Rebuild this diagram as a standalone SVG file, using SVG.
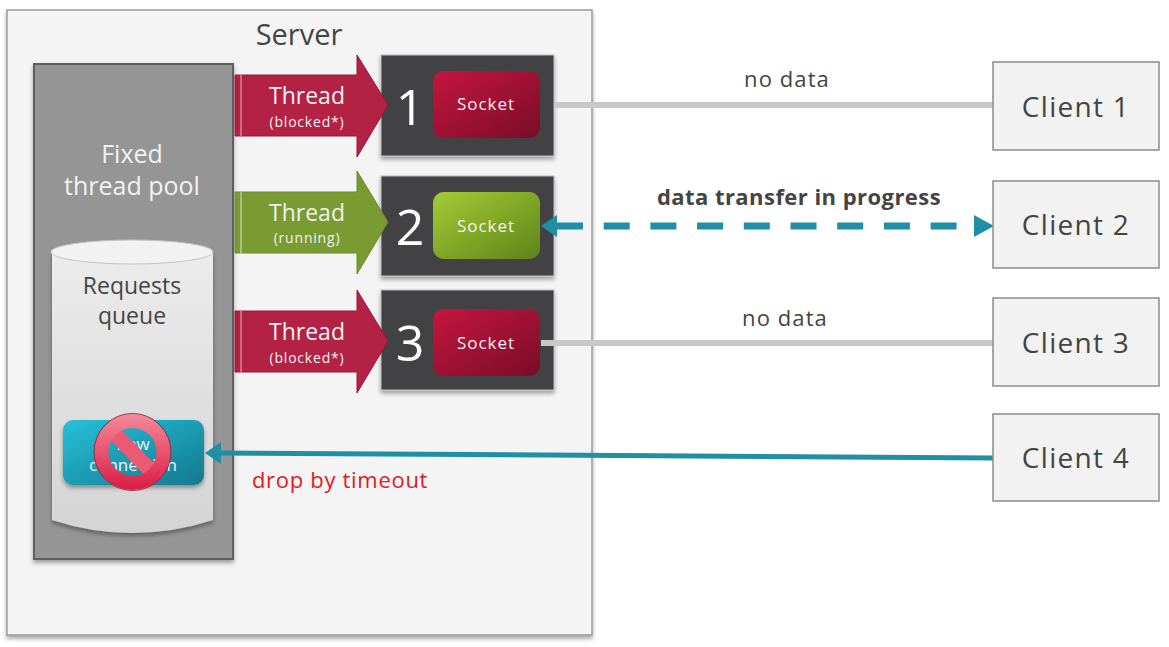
<svg xmlns="http://www.w3.org/2000/svg" width="1169" height="647" viewBox="0 0 1169 647">
<style>
text{font-family:"Open Sans","Noto Sans","Liberation Sans",sans-serif;text-anchor:middle}
.t{fill:#444;font-size:22px;letter-spacing:1.1px}
.w{fill:#f2f2f2}
.th{font-size:23px}
.sub{font-size:14px;letter-spacing:.8px}
.client{fill:#f2f2f2;stroke:#8c8c8c;stroke-width:1.5}
.sq{fill:#434345;stroke:#bdbdbd;stroke-width:1;filter:url(#sh)}
.cl{fill:#444;font-size:28px;letter-spacing:1.3px}
.num{fill:#fff;font-size:50px}
.sock{fill:#f2f2f2;font-size:17px;letter-spacing:1px}
.red{fill:#b32144;stroke:#98183a;stroke-width:1}
.grn{fill:#7a9a32;stroke:#6b8a2a;stroke-width:1}
</style>
<defs>
<filter id="sh" x="-10%" y="-10%" width="120%" height="125%"><feDropShadow dx="0" dy="3" stdDeviation="2" flood-color="#000" flood-opacity=".35"/></filter>
<linearGradient id="red" x1="0" y1="0" x2="1" y2="1"><stop offset="0" stop-color="#c5163f"/><stop offset="1" stop-color="#7a0c28"/></linearGradient>
<linearGradient id="grn" x1="0" y1="0" x2="1" y2="1"><stop offset="0" stop-color="#a4cb35"/><stop offset="1" stop-color="#5f8419"/></linearGradient>
<linearGradient id="teal" x1="0" y1="0" x2="1" y2="1"><stop offset="0" stop-color="#27c0d8"/><stop offset="1" stop-color="#12798f"/></linearGradient>
<linearGradient id="cyl" x1="0" y1="0" x2="0" y2="1"><stop offset="0" stop-color="#ececec"/><stop offset="1" stop-color="#d4d4d4"/></linearGradient>
<linearGradient id="no" gradientUnits="userSpaceOnUse" x1="0" y1="414" x2="0" y2="490"><stop offset="0" stop-color="#f58a98"/><stop offset="1" stop-color="#da1c44"/></linearGradient>
<marker id="ah" markerUnits="userSpaceOnUse" markerWidth="24" markerHeight="26" viewBox="0 -13 24 26" refX="0" refY="0" orient="auto-start-reverse"><path d="M0 -11L20 0L0 11Z" fill="#1f8fa5"/></marker>
<marker id="al" markerUnits="userSpaceOnUse" markerWidth="24" markerHeight="26" viewBox="0 -13 24 26" refX="0" refY="0" orient="auto-start-reverse"><path d="M0 -11L16 0L0 11Z" fill="#1f8fa5"/></marker>
</defs>
<rect width="1169" height="647" fill="#fff"/>
<g id="server"><rect x="7" y="10" width="585" height="625" fill="#f4f4f4" stroke="#9a9a9a" stroke-width="1.5" filter="url(#sh)"/><text x="299" y="45" fill="#444" font-size="29">Server</text></g>
<g id="pool"><rect x="34" y="64" width="199" height="495" fill="#959595" stroke="#5f5f5f" stroke-width="2" filter="url(#sh)"/><text class="w" x="132" y="163" font-size="25">Fixed</text><text class="w" x="132" y="195" font-size="25">thread pool</text></g>
<g id="queue"><path d="M52 252V520Q132 546 213 520V252Z" fill="url(#cyl)" filter="url(#sh)"/><ellipse cx="132" cy="252" rx="81" ry="12" fill="#f2f2f2" stroke="#c4c4c4" stroke-width="1"/><text x="132" y="294" fill="#444" font-size="23">Requests</text><text x="132" y="324" fill="#444" font-size="23">queue</text></g>
<g id="connection"><rect x="63" y="420" width="141" height="65" rx="10" fill="url(#teal)" filter="url(#sh)"/><text class="w" x="133" y="450" font-size="17">new</text><text class="w" x="133" y="471" font-size="17">connection</text></g>
<g id="forbidden"><line x1="110" y1="429" x2="155" y2="475" stroke="#ec5a72" stroke-width="15"/><circle cx="132.500" cy="452" r="31" fill="none" stroke="url(#no)" stroke-width="14"/><circle cx="132.500" cy="452" r="38.500" fill="none" stroke="#a8243f" stroke-width="1"/></g>
<g id="socket1"><rect class="sq" x="381" y="55" width="173" height="101"/><text class="num" x="410" y="125">1</text><rect x="433" y="71" width="107" height="67" rx="11" fill="url(#red)"/><text class="sock" x="486" y="110">Socket</text></g>
<g id="socket2"><rect class="sq" x="381" y="176" width="173" height="100"/><text class="num" x="410" y="245">2</text><rect x="433" y="192" width="107" height="67" rx="11" fill="url(#grn)"/><text class="sock" x="486" y="232">Socket</text></g>
<g id="socket3"><rect class="sq" x="381" y="290" width="173" height="100"/><text class="num" x="410" y="361">3</text><rect x="433" y="309" width="107" height="67" rx="11" fill="url(#red)"/><text class="sock" x="486" y="349">Socket</text></g>
<g id="connectors" fill="none">
<path d="M555 105H993" stroke="#c8c8c8" stroke-width="6"/>
<path d="M541 343H993" stroke="#c8c8c8" stroke-width="6"/>
<path d="M557 226H974" stroke="#1f8fa5" stroke-width="7" stroke-dasharray="26 20.700" marker-start="url(#al)" marker-end="url(#ah)"/>
<path d="M993 458L221 453" stroke="#1f8fa5" stroke-width="5" marker-end="url(#al)"/>
</g>
<g id="thread1"><path class="red" d="M235 75H357V55L388 105L357 157V136H235Z"/><path d="M241 75V136" stroke="#ca6c84" stroke-width="2"/><text class="w th" x="307" y="104">Thread</text><text class="w sub" x="307" y="127">(blocked*)</text></g>
<g id="thread2"><path class="grn" d="M235 192H357V171L388 222L357 274V253H235Z"/><path d="M241 192V253" stroke="#a9c078" stroke-width="2"/><text class="w th" x="307" y="221">Thread</text><text class="w sub" x="307" y="243">(running)</text></g>
<g id="thread3"><path class="red" d="M235 311H357V290L388 341L357 393V372H235Z"/><path d="M241 311V372" stroke="#ca6c84" stroke-width="2"/><text class="w th" x="307" y="340">Thread</text><text class="w sub" x="307" y="363">(blocked*)</text></g>
<g id="client1"><rect class="client" x="993" y="62" width="166" height="88"/><text class="cl" x="1076" y="117">Client 1</text></g>
<g id="client2"><rect class="client" x="993" y="181" width="166" height="87"/><text class="cl" x="1076" y="235">Client 2</text></g>
<g id="client3"><rect class="client" x="993" y="298" width="166" height="88"/><text class="cl" x="1076" y="353">Client 3</text></g>
<g id="client4"><rect class="client" x="993" y="414" width="166" height="87"/><text class="cl" x="1076" y="468">Client 4</text></g>
<text class="t" x="787" y="87">no data</text>
<text class="t" x="785" y="326">no data</text>
<text x="799" y="205" fill="#444" font-size="22" font-weight="700" letter-spacing=".45">data transfer in progress</text>
<text x="340" y="488" fill="#e1191f" font-size="22" letter-spacing=".7">drop by timeout</text>
</svg>
